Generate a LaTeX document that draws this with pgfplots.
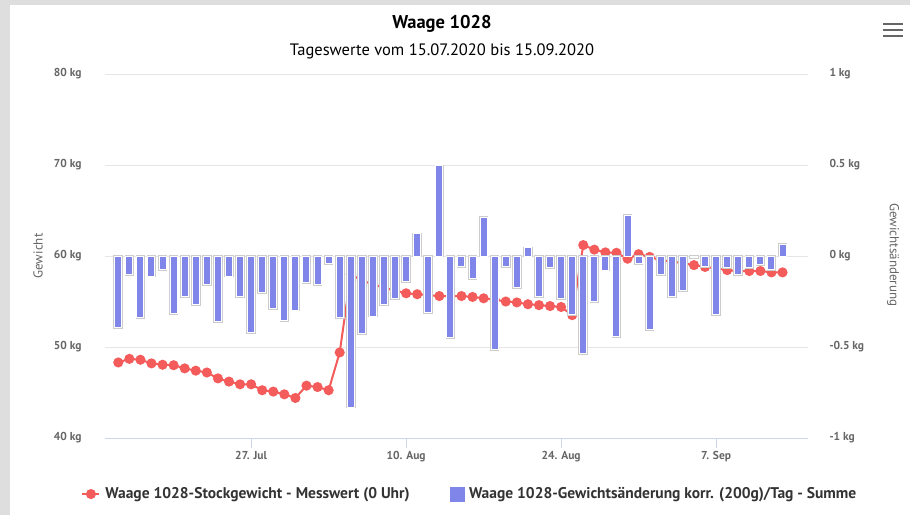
\documentclass[border=0pt]{standalone}
\usepackage{pgfplots}
\usepackage{pgfplotstable}
\pgfplotsset{compat=1.18}
\usetikzlibrary{backgrounds}
\usepackage{fontspec}
\setmainfont{PT Sans}
\definecolor{barblue}{HTML}{8085E9}
\definecolor{linered}{HTML}{F45B5B}
\definecolor{gridgray}{HTML}{E6E6E6}
\definecolor{axisblue}{HTML}{CCD6EB}
\definecolor{ticktext}{HTML}{666666}
\definecolor{titletext}{HTML}{333333}
\definecolor{bggray}{HTML}{DEDEDE}

\pgfplotstableread{
i w
0 48.3
1 48.7
2 48.6
3 48.2
4 48.05
5 48.0
6 47.65
7 47.4
8 47.2
9 46.55
10 46.2
11 45.9
12 45.9
13 45.25
14 45.1
15 44.8
16 44.4
17 45.75
18 45.6
19 45.25
20 49.4
21 58.0
22 57.3
23 56.9
24 56.5
25 56.2
26 55.9
27 55.8
28 55.7
29 55.6
30 55.6
31 55.6
32 55.5
33 55.35
34 55.2
35 55.0
36 54.9
37 54.7
38 54.6
39 54.5
40 54.4
41 53.5
42 61.2
43 60.7
44 60.4
45 60.35
46 59.7
47 60.2
48 59.9
49 59.55
50 59.4
51 59.2
52 59.0
53 58.8
54 58.65
55 58.45
56 58.35
57 58.35
58 58.35
59 58.2
60 58.2
}\weightdata

\pgfplotstableread{
i d
0 -0.394
1 -0.104
2 -0.339
3 -0.11
4 -0.073
5 -0.315
6 -0.224
7 -0.269
8 -0.159
9 -0.361
10 -0.11
11 -0.224
12 -0.421
13 -0.202
14 -0.288
15 -0.357
16 -0.297
17 -0.147
18 -0.159
19 -0.04
20 -0.34
21 -0.83
22 -0.425
23 -0.33
24 -0.269
25 -0.233
26 -0.141
27 0.121
28 -0.311
29 0.495
30 -0.449
31 -0.059
32 -0.123
33 0.21
34 -0.513
35 -0.059
36 -0.172
37 0.045
38 -0.224
39 -0.062
40 -0.233
41 -0.32
42 -0.535
43 -0.251
44 -0.077
45 -0.443
46 0.225
47 -0.04
48 -0.403
49 -0.104
50 -0.224
51 -0.192
52 -0.007
53 -0.059
54 -0.324
55 -0.062
56 -0.104
57 -0.062
58 -0.049
59 -0.073
60 0.064
}\bardata

\begin{document}
\begin{tikzpicture}

\begin{axis}[
  name=main, scale only axis,
  width=703pt, height=364pt,
  xmin=-1.2, xmax=62.3, ymin=40, ymax=80,
  ytick={40,50,60,70,80},
  yticklabel={\pgfmathprintnumber{\tick} kg},
  /pgf/number format/assume math mode=true,
  ymajorgrids, major grid style={gridgray, line width=1pt},
  axis y line*=left, axis x line*=bottom,
  y axis line style={draw=none},
  x axis line style={axisblue, line width=1pt, -},
  xtick={12,26,40,54},
  xticklabels={27. Jul, 10. Aug, 24. Aug, 7. Sep},
  tick align=outside, major tick length=10pt,
  xtick style={axisblue, line width=1pt},
  ytick style={draw=none},
  ticklabel style={font=\bfseries\fontsize{11.5}{13}\selectfont, text=ticktext},
  yticklabel style={xshift=-10pt},
  clip=false,
  legend style={at={(0.519,-0.154)}, anchor=center, draw=none, fill=none,
    legend columns=2, font=\bfseries\fontsize{15.5}{17}\selectfont, text=titletext,
    /tikz/every odd column/.append style={column sep=3pt},
    /tikz/every even column/.append style={column sep=38pt}},
]
\addplot[linered, line width=2pt, mark=*, mark size=4pt, mark options={solid, fill=linered, draw=linered}] table[x=i, y=w]{\weightdata};
\addlegendentry{Waage 1028-Stockgewicht - Messwert (0 Uhr)}
\addlegendimage{legend image code/.code={\fill[barblue] (0pt,-7pt) rectangle (14pt,7pt);}}
\addlegendentry{Waage 1028-Gewichtsänderung korr. (200g)/Tag - Summe}
\end{axis}

\begin{axis}[
  scale only axis,
  width=703pt, height=364pt,
  xmin=-1.2, xmax=62.3, ymin=-1, ymax=1,
  ytick={-1,-0.5,0,0.5,1},
  yticklabel={\pgfmathprintnumber{\tick} kg},
  /pgf/number format/assume math mode=true,
  axis y line*=right, axis x line=none,
  y axis line style={draw=none},
  ytick style={draw=none},
  ticklabel style={font=\bfseries\fontsize{11.5}{13}\selectfont, text=ticktext},
  yticklabel style={xshift=18pt, anchor=west},
]
\addplot[ybar, bar width=7pt, fill=barblue, draw=white, line width=1pt,
  preaction={draw=black!20, line width=2.6pt}]
  table[x=i, y=d]{\bardata};
\end{axis}

\begin{scope}[shift={(main.south west)}, x=1pt, y=1pt]
\node[font=\bfseries\fontsize{18.5}{20}\selectfont, text=black] at (442-105,491-77) {Waage 1028};
\node[font=\fontsize{16.5}{18}\selectfont, text=black] at (442-105,464-77) {Tageswerte vom 15.07.2020 bis 15.09.2020};
\node[rotate=90, font=\fontsize{13}{15}\selectfont, text=ticktext] at (38-105,259-77) {Gewicht};
\node[rotate=-90, font=\fontsize{13}{15}\selectfont, text=ticktext] at (893-105,260-77) {Gewichtsänderung};
\foreach \yy in {491,485,479} \draw[ticktext, line width=2.5pt] (883-105,\yy-77) -- (903-105,\yy-77);
\begin{scope}[on background layer]
\fill[bggray] (-105,-77) rectangle (910-105,515-77);
\fill[white] (10-105,-77) rectangle (910-105,510-77);
\end{scope}
\end{scope}
\end{tikzpicture}
\end{document}
